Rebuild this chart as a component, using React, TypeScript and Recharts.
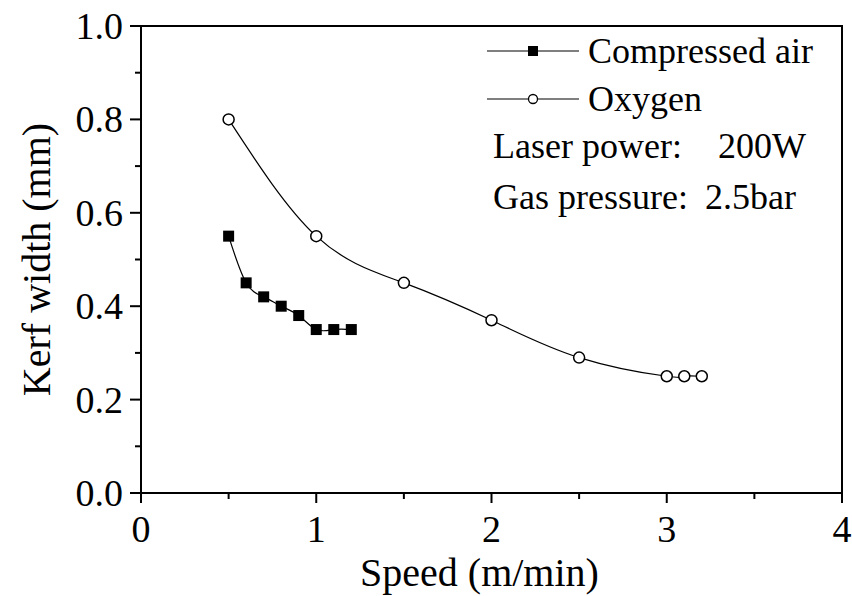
import React from 'react'
import { LineChart, Line, XAxis, YAxis, ReferenceArea, Legend, Label } from 'recharts'

const airSpeed = [0.5, 0.6, 0.7, 0.8, 0.9, 1.0, 1.1, 1.2]
const airKerf = [0.55, 0.45, 0.42, 0.4, 0.38, 0.35, 0.35, 0.35]
const oxySpeed = [0.5, 1.0, 1.5, 2.0, 2.5, 3.0, 3.1, 3.2]
const oxyKerf = [0.8, 0.55, 0.45, 0.37, 0.29, 0.25, 0.25, 0.25]

const xTicks = [0, 0.5, 1, 1.5, 2, 2.5, 3, 3.5, 4]
const yTicks = [0, 0.1, 0.2, 0.3, 0.4, 0.5, 0.6, 0.7, 0.8, 0.9, 1.0]
const notes = [
  ['Laser power:', '200W'],
  ['Gas pressure:', '2.5bar'],
]

const airData = airSpeed.map((x, i) => ({ x, y: airKerf[i] }))
const oxyData = oxySpeed.map((x, i) => ({ x, y: oxyKerf[i] }))

const FONT = 'Liberation Serif, Tinos, DejaVu Serif, serif'

const SquareDot = (props: any) => {
  const { cx, cy, index } = props
  if (cx == null || cy == null) return null
  return <rect key={`sq-${index}`} x={cx - 5.5} y={cy - 5.5} width={11} height={11} fill='#000' />
}

const YTick = ({ x, y, payload }: any) => {
  const v = payload.value
  const major = Math.round(v * 10) % 2 === 0
  return (
    <g>
      <line x1={x - (major ? 11 : 6)} x2={x} y1={y} y2={y} stroke='#000' strokeWidth={2} />
      {major && (
        <text x={x - 18} y={y} textAnchor='end' dominantBaseline='central' style={{ fontFamily: FONT, fontSize: 38 }} fill='#000'>
          {v.toFixed(1)}
        </text>
      )}
    </g>
  )
}

const XTick = ({ x, y, payload }: any) => {
  const v = payload.value
  const major = Number.isInteger(v)
  return (
    <g>
      <line x1={x} x2={x} y1={y} y2={y + (major ? 10 : 6)} stroke='#000' strokeWidth={2} />
      {major && (
        <text x={x} y={y + 36} textAnchor='middle' dominantBaseline='central' style={{ fontFamily: FONT, fontSize: 38 }} fill='#000'>
          {v}
        </text>
      )}
    </g>
  )
}

const LegendBox = ({ payload }: any) => {
  const rows = (payload || []).filter((p: any) => p.type !== 'none')
  return (
    <svg width={362} height={200} style={{ display: 'block' }}>
      {rows.map((p: any, i: number) => {
        const cy = 25 + i * 48
        return (
          <g key={p.value}>
            <line x1={7} x2={99} y1={cy} y2={cy} stroke='#000' strokeWidth={1.2} />
            {i === 0 ? (
              <rect x={53 - 5} y={cy - 5} width={10} height={10} fill='#000' />
            ) : (
              <circle cx={53} cy={cy} r={4.5} fill='#fff' stroke='#000' strokeWidth={1.3} />
            )}
            <text x={108} y={cy} dominantBaseline='central' style={{ fontFamily: FONT, fontSize: 36 }} fill='#000'>
              {p.value}
            </text>
          </g>
        )
      })}
      {notes.map(([label, val], i) => {
        const cy = 120 + i * 51
        return (
          <g key={label}>
            <text x={13} y={cy} dominantBaseline='central' style={{ fontFamily: FONT, fontSize: 36 }} fill='#000'>
              {label}
            </text>
            <text x={i === 0 ? 238 : 225} y={cy} dominantBaseline='central' style={{ fontFamily: FONT, fontSize: 36 }} fill='#000'>
              {val}
            </text>
          </g>
        )
      })}
    </svg>
  )
}

export default function App() {
  return (
    <div style={{ position: 'absolute', left: 0, top: 0, width: 852, height: 596, background: '#fff', fontFamily: FONT }}>
      <LineChart width={852} height={596} margin={{ top: 26, right: 10, bottom: 0, left: 0 }}>
        <XAxis
          type='number'
          dataKey='x'
          domain={[0, 4]}
          ticks={xTicks}
          interval={0}
          allowDataOverflow
          height={103}
          tickSize={0}
          tickMargin={0}
          tickLine={false}
          tick={<XTick />}
          axisLine={{ stroke: '#000', strokeWidth: 2 }}
        >
          <Label
            content={({ viewBox }: any) => (
              <text
                x={viewBox.x + viewBox.width / 2 - 12}
                y={viewBox.y + 79}
                textAnchor='middle'
                dominantBaseline='central'
                style={{ fontFamily: FONT, fontSize: 40 }}
                fill='#000'
              >
                Speed (m/min)
              </text>
            )}
          />
        </XAxis>
        <YAxis
          type='number'
          domain={[0, 1]}
          ticks={yTicks}
          interval={0}
          allowDataOverflow
          width={141}
          tickSize={0}
          tickMargin={0}
          tickLine={false}
          tick={<YTick />}
          axisLine={{ stroke: '#000', strokeWidth: 2 }}
        >
          <Label
            content={({ viewBox }: any) => {
              const cx = viewBox.x + 36
              const cy = viewBox.y + viewBox.height / 2
              return (
                <text
                  x={cx}
                  y={cy}
                  transform={`rotate(-90, ${cx}, ${cy})`}
                  textAnchor='middle'
                  dominantBaseline='central'
                  style={{ fontFamily: FONT, fontSize: 40 }}
                  fill='#000'
                >
                  Kerf width (mm)
                </text>
              )
            }}
          />
        </YAxis>
        <ReferenceArea x1={0} x2={4} y1={0} y2={1} fill='none' stroke='#000' strokeWidth={2} />
        <Legend
          layout='horizontal'
          verticalAlign='middle'
          align='center'
          content={<LegendBox />}
          wrapperStyle={{ top: 26, left: 480, width: 362, height: 200 }}
        />
        <Line
          data={airData}
          dataKey='y'
          name='Compressed air'
          type='natural'
          stroke='#000'
          strokeWidth={1.2}
          dot={SquareDot}
          activeDot={false}
          isAnimationActive={false}
        />
        <Line
          data={oxyData}
          dataKey='y'
          name='Oxygen'
          type='natural'
          stroke='#000'
          strokeWidth={1.2}
          dot={{ r: 5.5, fill: '#fff', stroke: '#000', strokeWidth: 1.5 }}
          activeDot={false}
          isAnimationActive={false}
        />
      </LineChart>
    </div>
  )
}
